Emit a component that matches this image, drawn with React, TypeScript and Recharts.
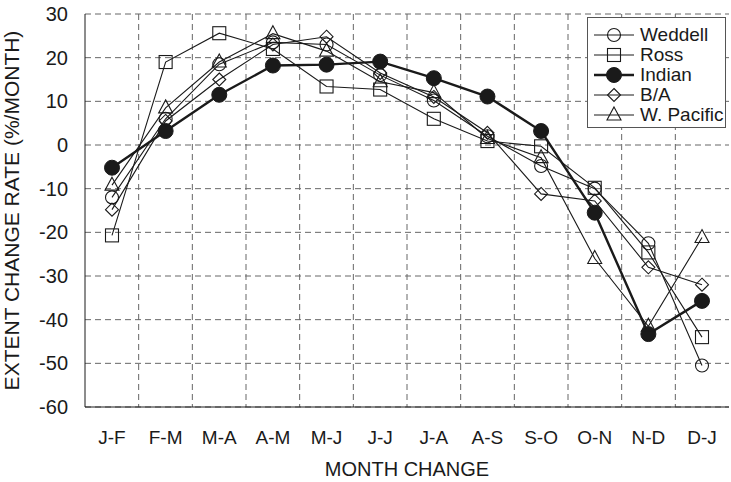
import { LineChart, Line, XAxis, YAxis, CartesianGrid, Label } from 'recharts';

const months = ['J-F', 'F-M', 'M-A', 'A-M', 'M-J', 'J-J', 'J-A', 'A-S', 'S-O', 'O-N', 'N-D', 'D-J'];
const weddell = [-12, 6, 18.5, 23.5, 23, 16, 10.2, 2, -4.8, -10, -22.5, -50.5];
const ross = [-20.7, 19, 25.6, 22, 13.4, 12.7, 6, 0.9, -0.3, -9.8, -24.6, -44];
const indian = [-5.2, 3.2, 11.5, 18.2, 18.4, 19.1, 15.3, 11.1, 3.2, -15.5, -43.3, -35.7];
const ba = [-14.8, 5.5, 15, 23, 24.8, 16.5, 11, 2.8, -11.2, -12.8, -28, -32];
const wPacific = [-9.2, 8.5, 19, 25.5, 21.5, 14.5, 12, 1.5, -2.9, -26, -41.5, -21.2];
const yTicks = [-60, -50, -40, -30, -20, -10, 0, 10, 20, 30];

const data = months.map((m, i) => ({
  month: m,
  weddell: weddell[i],
  ross: ross[i],
  indian: indian[i],
  ba: ba[i],
  wPacific: wPacific[i],
}));

const FONT = '"Liberation Sans", Arial, sans-serif';
const INK = '#1a1a1a';

type Shape = 'circle' | 'square' | 'dot' | 'diamond' | 'triangle';

function marker(shape: Shape, cx: number, cy: number, key?: string | number) {
  switch (shape) {
    case 'circle':
      return <circle key={key} cx={cx} cy={cy} r={6.5} fill="none" stroke={INK} strokeWidth={1.1} />;
    case 'square':
      return <rect key={key} x={cx - 6.5} y={cy - 6.5} width={13} height={13} fill="none" stroke={INK} strokeWidth={1.1} />;
    case 'dot':
      return <circle key={key} cx={cx} cy={cy} r={7.5} fill={INK} stroke={INK} />;
    case 'diamond':
      return (
        <polygon
          key={key}
          points={`${cx},${cy - 6.5} ${cx + 6.5},${cy} ${cx},${cy + 6.5} ${cx - 6.5},${cy}`}
          fill="none"
          stroke={INK}
          strokeWidth={1.1}
        />
      );
    default:
      return (
        <polygon
          key={key}
          points={`${cx},${cy - 8} ${cx + 7},${cy + 5} ${cx - 7},${cy + 5}`}
          fill="none"
          stroke={INK}
          strokeWidth={1.1}
        />
      );
  }
}

const dotFor = (shape: Shape) => (props: any) => marker(shape, props.cx, props.cy, props.index);

const series: { key: string; name: string; shape: Shape; width: number }[] = [
  { key: 'weddell', name: 'Weddell', shape: 'circle', width: 1.1 },
  { key: 'ross', name: 'Ross', shape: 'square', width: 1.1 },
  { key: 'indian', name: 'Indian', shape: 'dot', width: 2.4 },
  { key: 'ba', name: 'B/A', shape: 'diamond', width: 1.1 },
  { key: 'wPacific', name: 'W. Pacific', shape: 'triangle', width: 1.1 },
];

// legend drawn as an overlay so it doesn't eat into the plot height
function LegendBox() {
  return (
    <div
      style={{
        position: 'absolute',
        left: 587,
        top: 17,
        border: '1px solid #555',
        background: '#fff',
        width: 139,
        height: 111,
        boxSizing: 'border-box',
        paddingTop: 7,
        fontFamily: FONT,
        fontSize: 19,
        color: INK,
      }}
    >
      {series.map((s) => (
        <div key={s.key} style={{ display: 'flex', alignItems: 'center', height: 20 }}>
          <svg width={48} height={20} style={{ marginLeft: 3 }}>
            <line x1={3} y1={10} x2={43} y2={10} stroke={INK} strokeWidth={s.width} />
            {marker(s.shape, 23, 10)}
          </svg>
          <span style={{ marginLeft: 1, lineHeight: '20px' }}>{s.name}</span>
        </div>
      ))}
    </div>
  );
}

export default function App() {
  return (
    <div style={{ position: 'absolute', left: 0, top: 0, width: 731, height: 482, background: '#fff' }}>
      <LineChart width={731} height={482} data={data} margin={{ top: 14, right: 2, bottom: 0, left: 0 }}>
        <CartesianGrid
          stroke="#666"
          strokeDasharray="6 4"
          verticalCoordinatesGenerator={({ offset }: any) =>
            Array.from({ length: 11 }, (_, i) => offset.left + ((i + 1) * offset.width) / 12)
          }
        />
        <XAxis
          dataKey="month"
          padding={{ left: 27, right: 27 }}
          height={75}
          axisLine={{ stroke: INK }}
          tickLine={false}
          tickSize={8}
          tickMargin={16}
          tick={{ fill: INK, fontSize: 19, fontFamily: FONT }}
        >
          <Label value="MONTH CHANGE" position="insideBottom" offset={6} fill={INK} fontSize={20} fontFamily={FONT} />
        </XAxis>
        <XAxis xAxisId="top" orientation="top" dataKey="month" height={0} tick={false} tickLine={false} axisLine={{ stroke: INK }} />
        <YAxis
          domain={[-60, 30]}
          ticks={yTicks}
          width={85}
          axisLine={{ stroke: INK }}
          tickLine={false}
          tickSize={8}
          tickMargin={9}
          tick={{ fill: INK, fontSize: 20, fontFamily: FONT }}
        >
          <Label
            value="EXTENT CHANGE RATE (%/MONTH)"
            angle={-90}
            position="insideLeft"
            offset={12}
            style={{ textAnchor: 'middle' }}
            fill={INK}
            fontSize={21}
            fontFamily={FONT}
          />
        </YAxis>
        <YAxis yAxisId="right" orientation="right" width={0} tick={false} tickLine={false} axisLine={{ stroke: INK }} />
        {series.map((s) => (
          <Line
            key={s.key}
            dataKey={s.key}
            name={s.name}
            stroke={INK}
            strokeWidth={s.width}
            dot={dotFor(s.shape)}
            activeDot={false}
            isAnimationActive={false}
          />
        ))}
      </LineChart>
      <LegendBox />
    </div>
  );
}
